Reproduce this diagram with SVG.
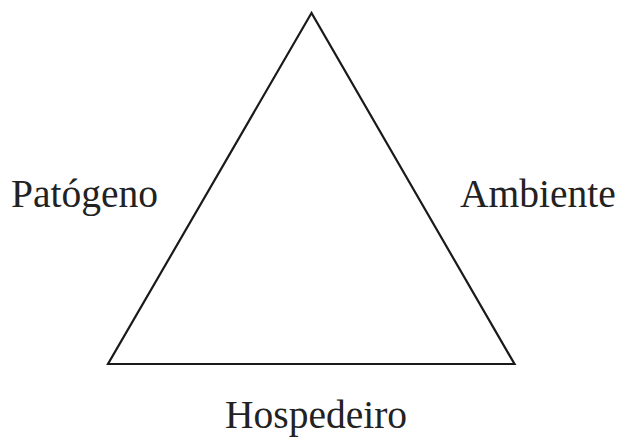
<svg xmlns="http://www.w3.org/2000/svg" width="621" height="443" viewBox="0 0 621 443">
<style>
text{font-family:"Liberation Serif","Times New Roman",serif;font-size:39.5px;fill:#222}
.edge{fill:none;stroke:#1a1a1a;stroke-width:2.2;stroke-linejoin:miter}
</style>
<rect width="621" height="443" fill="#fff"/>
<g id="connectors">
<polygon class="edge" points="311.5,13 108,364 514.5,364"/>
</g>
<g id="patogeno"><text x="11" y="207">Patógeno</text></g>
<g id="ambiente"><text x="460" y="207">Ambiente</text></g>
<g id="hospedeiro"><text x="225" y="428">Hospedeiro</text></g>
</svg>
